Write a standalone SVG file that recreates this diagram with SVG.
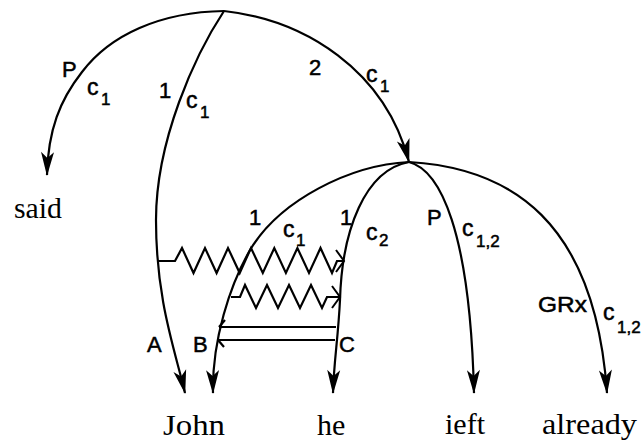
<svg xmlns="http://www.w3.org/2000/svg" width="642" height="441" viewBox="0 0 642 441">
<style>
.e{fill:none;stroke:#000;stroke-width:2.2}
.s{font-family:"Liberation Sans",Arial,sans-serif;font-size:22px;fill:#000;stroke:#000;stroke-width:0.5}
.c{font-family:"Liberation Sans",Arial,sans-serif;font-size:23px;fill:#000;stroke:#000;stroke-width:0.5}
.sub{font-family:"Liberation Sans",Arial,sans-serif;font-size:17px;fill:#000;stroke:#000;stroke-width:0.5}
.w{font-family:"Liberation Serif","Times New Roman",serif;font-size:30px;fill:#000}
</style>
<defs>
<marker id="ah" viewBox="-25 -8 27 16" refX="0" refY="0" markerWidth="27" markerHeight="16" markerUnits="userSpaceOnUse" orient="auto">
<path d="M1,0 L-23,-6.5 L-17,0 L-23,6.5 Z" fill="#000"/>
</marker>
<marker id="oa" viewBox="-12 -14 15 28" refX="0" refY="0" markerWidth="15" markerHeight="28" markerUnits="userSpaceOnUse" orient="auto">
<path d="M-8,-11 L0,0 L-8,11" fill="none" stroke="#000" stroke-width="2"/>
</marker>
</defs>
<rect width="642" height="441" fill="#fff"/>
<g id="connectors">
<path class="e" d="M224,11 C160,12 110,35 82,72 C60,100 48,130 47,175" marker-end="url(#ah)"/>
<path class="e" d="M224,11 C195,55 156,140 156,220 C156,300 175,350 185,393" marker-end="url(#ah)"/>
<path class="e" d="M224,11 C305,20 385,70 409,162" marker-end="url(#ah)"/>
<path class="e" d="M409,162 C350,165 280,200 250,250 C230,285 212,340 213,393" marker-end="url(#ah)"/>
<path class="e" d="M409,162 C365,170 342,230 340,300 C338,340 334,360 333,393" marker-end="url(#ah)"/>
<path class="e" d="M409,162 C440,170 470,230 474,393" marker-end="url(#ah)"/>
<path class="e" d="M409,162 C510,168 595,220 607,393" marker-end="url(#ah)"/>
<path class="e" d="M158,261 H175 L182,248 L193.5,273 L205,248 L216.6,273 L228,248 L239.7,273 L251,248 L262.8,273 L274.3,248 L285.9,273 L297.4,248 L309,273 L320.5,248 L332,273 L337,261 H344" marker-end="url(#oa)"/>
<path class="e" d="M231,297 H240 L245,285 L256,308 L267,285 L278,308 L289,285 L300,308 L311,285 L322,308 L327,297 H340" marker-end="url(#oa)"/>
<path class="e" d="M219,327 H336 M218,340 H335 M225,320 L219,327 M218,340 L224,347"/>
</g>
<g id="edge-labels">
<text class="s" x="62" y="77">P</text>
<text class="c" x="87" y="95">c</text><text class="sub" x="101" y="105">1</text>
<text class="s" x="159" y="98">1</text>
<text class="c" x="186" y="108">c</text><text class="sub" x="200" y="118">1</text>
<text class="s" x="309" y="75">2</text>
<text class="c" x="366" y="82">c</text><text class="sub" x="380" y="92">1</text>
<text class="s" x="249" y="225">1</text>
<text class="c" x="283" y="237">c</text><text class="sub" x="296" y="246">1</text>
<text class="s" x="340" y="225">1</text>
<text class="c" x="366" y="240">c</text><text class="sub" x="379" y="246">2</text>
<text class="s" x="427" y="225">P</text>
<text class="c" x="462" y="236">c</text><text class="sub" x="476" y="247">1,2</text>
<text class="s" x="538" y="312" textLength="49" lengthAdjust="spacingAndGlyphs">GRx</text>
<text class="c" x="603" y="320">c</text><text class="sub" x="617" y="333">1,2</text>
<text class="s" x="147" y="352">A</text>
<text class="s" x="193" y="352">B</text>
<text class="s" x="339" y="352">C</text>
</g>
<g id="root"><circle cx="224" cy="11" r="0.5" fill="#000"/></g>
<g id="node2"><circle cx="409" cy="162" r="0.5" fill="#000"/></g>
<g id="said"><text class="w" x="14" y="218" textLength="48" lengthAdjust="spacingAndGlyphs">said</text></g>
<g id="John"><text class="w" x="163" y="435" textLength="62" lengthAdjust="spacingAndGlyphs">John</text></g>
<g id="he"><text class="w" x="317" y="435">he</text></g>
<g id="ieft"><text class="w" x="445" y="434">ieft</text></g>
<g id="already"><text class="w" x="542" y="434" textLength="95" lengthAdjust="spacingAndGlyphs">already</text></g>
</svg>
